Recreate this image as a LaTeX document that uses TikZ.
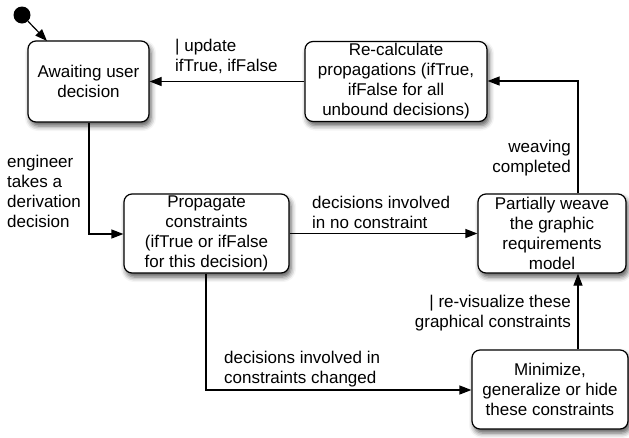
\documentclass[tikz,border=0pt]{standalone}
\usepackage{fontspec}
\setmainfont{Liberation Sans}
\usetikzlibrary{arrows.meta,shadows.blur}
\begin{document}
\begin{tikzpicture}[x=1pt,y=-1pt,
  font=\fontsize{17}{20}\selectfont,
  state/.style={draw=black, line width=1.2pt, rounded corners=8pt, fill=white, align=center, inner sep=0pt,
    blur shadow={shadow xshift=2pt, shadow yshift=-4pt, shadow blur radius=5pt, shadow opacity=65}},
  lbl/.style={align=left, inner sep=0pt},
  lblr/.style={align=right, inner sep=0pt},
  conn/.style={line width=1.2pt, -{Triangle[length=12pt,width=9pt]}}]
\useasboundingbox (0,0) rectangle (629,437);
\node[circle, fill=black, minimum size=17pt, inner sep=0pt] (init) at (22,15) {};
\node[state, minimum width=121pt, minimum height=81pt] (aw) at (88.5,81.5) {Awaiting user\\decision};
\node[state, minimum width=182pt, minimum height=80pt] (rc) at (396,81.5) {Re-calculate\\propagations (ifTrue,\\ifFalse for all\\unbound decisions)};
\node[state, minimum width=165pt, minimum height=79pt] (pc) at (206.5,233.5) {Propagate\\constraints\\(ifTrue or ifFalse\\for this decision)};
\node[state, minimum width=148pt, minimum height=79pt] (pw) at (552,233.5) {Partially weave\\the graphic\\requirements\\model};
\node[state, minimum width=156pt, minimum height=79pt] (mz) at (550,389.5) {Minimize,\\generalize or hide\\these constraints};
\coordinate (awin) at (47,41);
\coordinate (c1) at (89,234);
\coordinate (c2) at (206,390);
\coordinate (c3) at (578,81);
\draw[conn] (init) -- (awin);
\draw[conn] (rc.west |- aw.east) -- (aw.east);
\draw[conn] (aw.south -| c1) -- (c1) -- (pc.west |- c1);
\draw[conn] (pc.east) -- (pw.west);
\draw[conn] (pc.south -| c2) -- (c2) -- (mz.west |- c2);
\draw[conn] (mz.north -| c3) -- (pw.south -| c3);
\draw[conn] (pw.north -| c3) -- (c3) -- (rc.east |- c3);
\node[lbl, anchor=north west] (l1) at (175,39) {| update\\ifTrue, ifFalse};
\node[lbl, anchor=north west] (l2) at (7,155) {engineer\\takes a\\derivation\\decision};
\node[lbl, anchor=north west] (l3) at (312,196) {decisions involved\\in no constraint};
\node[lblr, anchor=north east] (l4) at (571,140) {weaving\\completed};
\node[lblr, anchor=north east] (l5) at (571,295) {| re-visualize these\\graphical constraints};
\node[lbl, anchor=north west] (l6) at (224,351) {decisions involved in\\constraints changed};
\end{tikzpicture}
\end{document}
